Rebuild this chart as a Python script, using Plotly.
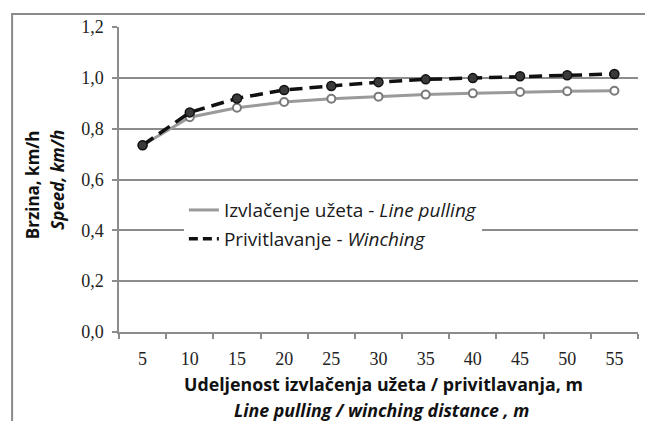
import plotly.graph_objects as go

distance = ["5", "10", "15", "20", "25", "30", "35", "40", "45", "50", "55"]
line_pulling = [0.735, 0.845, 0.882, 0.905, 0.918, 0.926, 0.934, 0.939, 0.944, 0.947, 0.949]
winching = [0.735, 0.864, 0.919, 0.952, 0.968, 0.983, 0.994, 0.999, 1.006, 1.010, 1.015]
y_ticks = [0.0, 0.2, 0.4, 0.6, 0.8, 1.0, 1.2]

x_title = ["<b>Udeljenost izvlačenja užeta / privitlavanja, m</b>",
           "<b><i>Line pulling / winching distance , m</i></b>"]
y_title = ["<b>Brzina, km/h</b>", "<b><i>Speed, km/h</i></b>"]

GRAY = "#9a9a9a"
GRID = "#8c8c8c"
SERIF = "Liberation Serif, Times New Roman, serif"

fig = go.Figure()

fig.add_trace(go.Scatter(
    x=distance, y=line_pulling, mode="lines+markers", showlegend=False,
    line=dict(color=GRAY, width=3),
    marker=dict(symbol="circle", size=8, color="white", line=dict(color="#7a7a7a", width=2)),
))
fig.add_trace(go.Scatter(
    x=distance, y=winching, mode="lines+markers", showlegend=False,
    line=dict(color="#111111", width=3.5, dash="13px,7px"),
    marker=dict(symbol="circle", size=9, color="#3a3a3a", line=dict(color="#111111", width=1.5)),
))

# legend entries (line samples only)
fig.add_trace(go.Scatter(
    x=[None], y=[None], mode="lines", name="Izvlačenje užeta - <i>Line pulling</i>",
    legendgroup="a", line=dict(color=GRAY, width=3),
))
fig.add_trace(go.Scatter(
    x=[None], y=[None], mode="lines", name="Privitlavanje - <i>Winching</i>",
    legendgroup="b", line=dict(color="#111111", width=3.5, dash="9px,5px"),
))

# outer frame
fig.add_shape(type="rect", xref="paper", yref="paper",
              x0=-0.206, x1=1.2, y0=-0.6, y1=1.0426,
              line=dict(color="#8a8a8a", width=2), layer="below")

# axis titles as two separately placed lines
fig.add_annotation(text=x_title[0], xref="paper", yref="paper", x=0.51, y=-0.170,
                   showarrow=False, xanchor="center", yanchor="middle",
                   font=dict(family="Open Sans", size=17.8, color="#111"))
fig.add_annotation(text=x_title[1], xref="paper", yref="paper", x=0.505, y=-0.256,
                   showarrow=False, xanchor="center", yanchor="middle",
                   font=dict(family="Open Sans", size=17.8, color="#111"))
fig.add_annotation(text=y_title[0], xref="paper", yref="paper", x=-0.166, y=0.484,
                   showarrow=False, xanchor="center", yanchor="middle", textangle=-90,
                   font=dict(family="Open Sans", size=17, color="#111"))
fig.add_annotation(text=y_title[1], xref="paper", yref="paper", x=-0.119, y=0.500,
                   showarrow=False, xanchor="center", yanchor="middle", textangle=-90,
                   font=dict(family="Open Sans", size=17, color="#111"))

# page body has an 8px margin, so the figure is shrunk by 8px on left/top
fig.update_layout(
    width=645, height=413,
    plot_bgcolor="white", paper_bgcolor="white",
    separators=", ",
    margin=dict(l=111, r=15, t=19, b=89),
    font=dict(family=SERIF, color="#222"),
    legend=dict(
        x=0.125, y=0.462, xanchor="left", yanchor="top",
        bgcolor="white", borderwidth=0,
        font=dict(family="Open Sans", size=19, color="#1a1a1a"),
        tracegroupgap=1, itemwidth=30, traceorder="grouped",
    ),
    xaxis=dict(
        type="category", range=[-0.5, 10.5], tickson="boundaries",
        ticks="outside", ticklen=5, tickcolor=GRID, tickwidth=1.5,
        automargin=False, ticklabelstandoff=10,
        showline=True, linecolor=GRID, linewidth=1.5, showgrid=False,
        tickfont=dict(family=SERIF, size=18, color="#222"),
    ),
    yaxis=dict(
        range=[0, 1.2], tickvals=y_ticks, tickformat=".1f", automargin=False,
        ticks="outside", ticklen=5, tickcolor=GRID, tickwidth=1.5, ticklabelstandoff=5,
        showline=True, linecolor=GRID, linewidth=1.5,
        showgrid=True, gridcolor=GRID, gridwidth=1.5, zeroline=False,
        tickfont=dict(family=SERIF, size=18, color="#222"),
    ),
)

fig.write_html("out.html")
